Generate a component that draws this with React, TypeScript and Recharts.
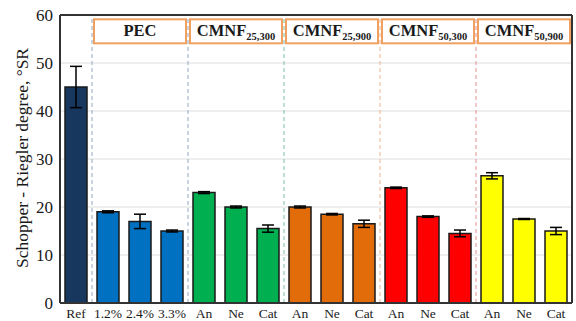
import { BarChart, Bar, Cell, XAxis, YAxis, CartesianGrid, ErrorBar, ReferenceArea, ReferenceLine } from "recharts";

// Schopper-Riegler degree per sample, with standard deviation
const labels = ["Ref", "1.2%", "2.4%", "3.3%", "An", "Ne", "Cat", "An", "Ne", "Cat", "An", "Ne", "Cat", "An", "Ne", "Cat"];
const values = [45, 19, 17, 15, 23, 20, 15.5, 20, 18.5, 16.5, 24, 18, 14.5, 26.5, 17.5, 15];
const errors = [4.3, 0.2, 1.5, 0.2, 0.2, 0.2, 0.75, 0.2, 0.15, 0.75, 0.15, 0.15, 0.7, 0.65, 0.1, 0.75];
const barColors = [
  "#17375E",
  "#0070C0", "#0070C0", "#0070C0",
  "#00B050", "#00B050", "#00B050",
  "#E26B0A", "#E26B0A", "#E26B0A",
  "#FF0000", "#FF0000", "#FF0000",
  "#FFFF00", "#FFFF00", "#FFFF00",
];

// group headers: name, subscript, first and last bar index
const groupNames = ["PEC", "CMNF", "CMNF", "CMNF", "CMNF"];
const groupSubs = ["", "25,300", "25,900", "50,300", "50,900"];
const groupFrom = [1, 4, 7, 10, 13];
const groupTo = [3, 6, 9, 12, 15];
// dashed separators sit after these bars
const sepAfter = [0, 3, 6, 9, 12];
const sepColors = ["#93A9C4", "#93A9C4", "#7DBFA3", "#EDB48E", "#E0918C"];

const yTicks = [0, 10, 20, 30, 40, 50, 60];

const data = labels.map((label, i) => ({ key: String(i), label, value: values[i], err: errors[i] }));

const serif = "'Liberation Serif', 'Times New Roman', serif";

function GroupBox(props: any, name: string, sub: string) {
  const { x, y, width, height } = props;
  const cx = x + width / 2;
  return (
    <g>
      <rect x={x + 2} y={y} width={width - 4} height={height} fill="#fff" stroke="#F0A060" strokeWidth={2} />
      <text x={cx} y={y + height / 2 + 5} textAnchor="middle" fontFamily={serif} fontWeight="bold" fontSize={16.5} fill="#1a1a1a">
        {name}
        {sub ? (
          <tspan fontSize={10.5} dy={4}>
            {sub}
          </tspan>
        ) : null}
      </text>
    </g>
  );
}

export default function App() {
  return (
    <div style={{ position: "absolute", left: 0, top: 0, background: "#fff" }}>
      <BarChart width={576} height={321} data={data} margin={{ top: 15, right: 4, bottom: 0, left: 0 }}>
        <CartesianGrid vertical={false} stroke="#dedede" />
        <XAxis
          dataKey="key"
          height={18}
          tickFormatter={(k: string) => labels[Number(k)]}
          tick={{ fontFamily: serif, fontSize: 13.5, fill: "#1a1a1a" }}
          tickLine={false}
          tickSize={0}
          tickMargin={5}
          axisLine={{ stroke: "#333", strokeWidth: 2 }}
          interval={0}
        />
        <YAxis
          width={60}
          domain={[0, 60]}
          ticks={yTicks}
          tick={{ fontFamily: serif, fontSize: 17, fill: "#1a1a1a" }}
          tickLine={false}
          tickSize={0}
          tickMargin={7}
          axisLine={{ stroke: "#333", strokeWidth: 2 }}
          label={{
            content: () => (
              <text
                x={22}
                y={158}
                transform="rotate(-90 22 158)"
                textAnchor="middle"
                dominantBaseline="central"
                fontFamily={serif}
                fontSize={16.5}
                textLength={220}
                lengthAdjust="spacingAndGlyphs"
                fill="#1a1a1a"
              >
                Schopper - Riegler degree, °SR
              </text>
            ),
          }}
        />
        {sepAfter.map((idx, i) => (
          <ReferenceLine key={"s" + i} x={String(idx)} position="end" stroke={sepColors[i]} strokeDasharray="4 3" strokeWidth={1} />
        ))}
        <ReferenceLine y={60} stroke="#333" strokeWidth={2} />
        <ReferenceLine x={String(labels.length - 1)} position="end" stroke="#333" strokeWidth={2} />
        {groupNames.map((name, i) => (
          <ReferenceArea
            key={"g" + i}
            x1={String(groupFrom[i])}
            x2={String(groupTo[i])}
            y1={54.1}
            y2={59.1}
            shape={(p: any) => GroupBox(p, name, groupSubs[i])}
          />
        ))}
        <Bar dataKey="value" barSize={22} stroke="#1a1a1a" strokeWidth={1.5} isAnimationActive={false}>
          {data.map((d, i) => (
            <Cell key={d.key} fill={barColors[i]} />
          ))}
          <ErrorBar dataKey="err" width={6} stroke="#000" strokeWidth={1.5} />
        </Bar>
      </BarChart>
    </div>
  );
}
